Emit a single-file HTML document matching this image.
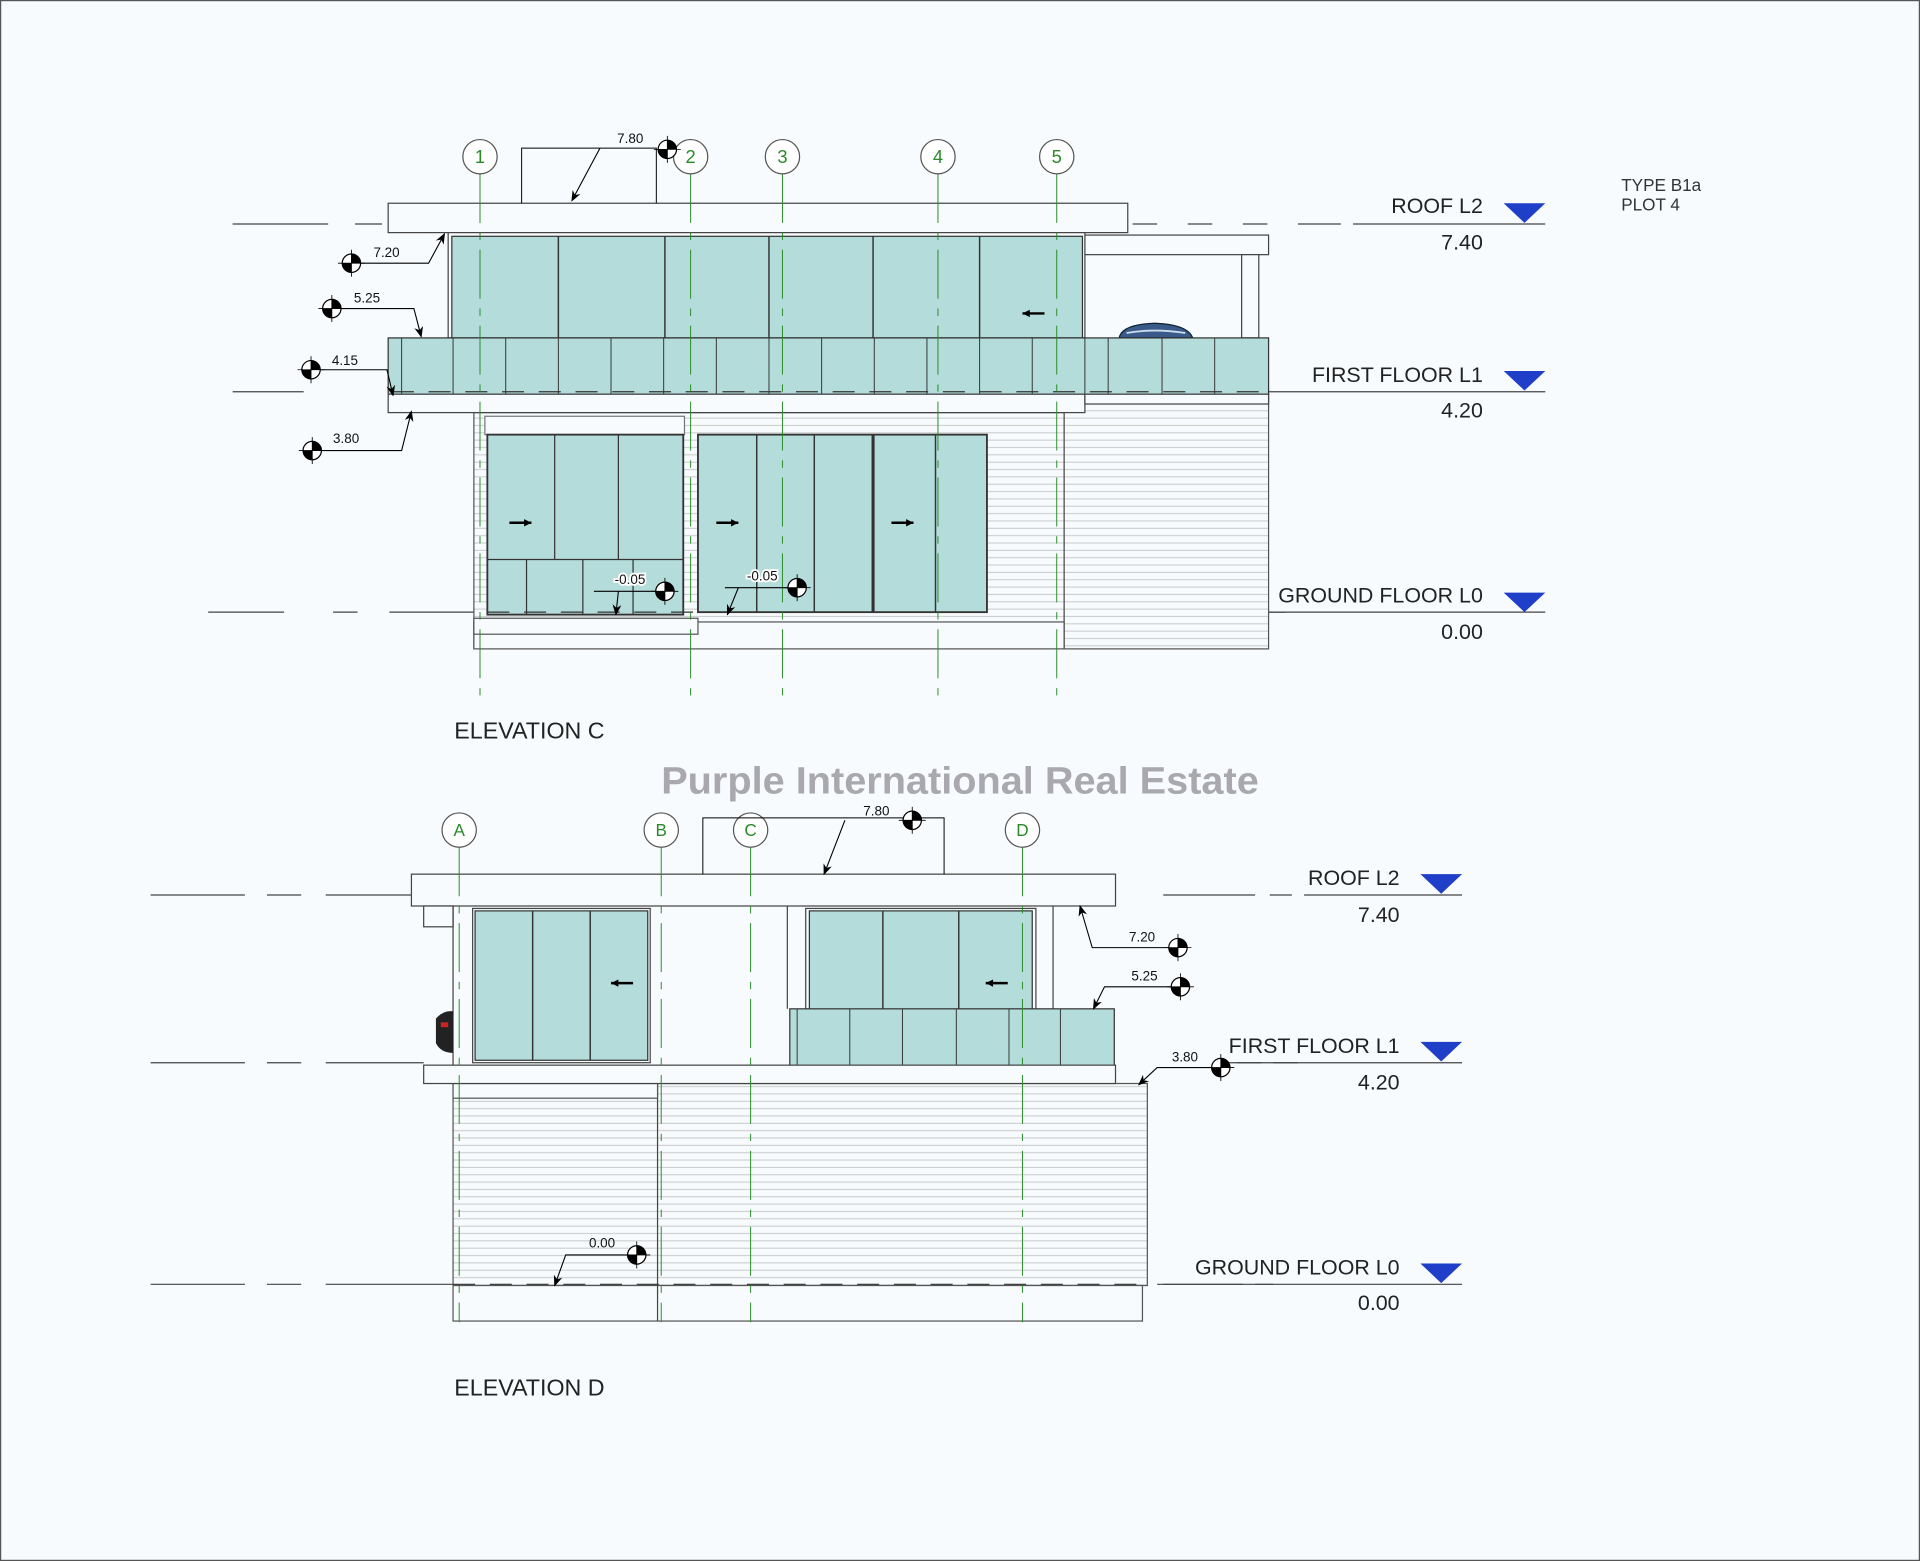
<!DOCTYPE html>
<html><head><meta charset="utf-8"><style>
html,body{margin:0;padding:0;background:#f7fbfd;}
svg{display:block;}
text{font-family:"Liberation Sans",sans-serif;}
</style></head><body>
<svg width="1920" height="1561" viewBox="0 0 1568 1275" preserveAspectRatio="none" xmlns="http://www.w3.org/2000/svg">
<defs>
<marker id="mk" viewBox="0 0 10 10" refX="9" refY="5" markerWidth="9" markerHeight="9" orient="auto" markerUnits="userSpaceOnUse"><path d="M0,1 L10,5 L0,9 L3,5Z" fill="#000"/></marker>
<pattern id="sid" width="8" height="6" patternUnits="userSpaceOnUse"><rect width="8" height="6" fill="#f7fbfd"/><line x1="0" y1="5.5" x2="8" y2="5.5" stroke="#c8c8c8" stroke-width="0.8"/></pattern>
<g id="dm"><circle r="7.5" fill="#fff" stroke="#000" stroke-width="1"/><path d="M0,-7.5 A7.5,7.5 0 0 1 7.5,0 L0,0Z" fill="#000"/><path d="M0,7.5 A7.5,7.5 0 0 1 -7.5,0 L0,0Z" fill="#000"/><line x1="-11" y1="0" x2="11" y2="0" stroke="#000" stroke-width="0.7"/><line x1="0" y1="-11" x2="0" y2="11" stroke="#000" stroke-width="0.7"/></g>
<path id="tri" d="M0,0 L34,0 L17,16Z" fill="#1f3fc8"/>
<g id="ar"><line x1="-9" y1="0" x2="9" y2="0" stroke="#000" stroke-width="2"/><path d="M9,0 L3,-3 L3,3Z" fill="#000"/></g>
<g id="al"><line x1="-9" y1="0" x2="9" y2="0" stroke="#000" stroke-width="2"/><path d="M-9,0 L-3,-3 L-3,3Z" fill="#000"/></g>
</defs>
<rect x="0.5" y="0.5" width="1567" height="1274" fill="#f7fbfd" stroke="#555" stroke-width="1"/>

<!-- ========== ELEVATION C ========== -->
<g stroke="#444" stroke-width="1" fill="none">
<path d="M190,183H268M290,183H312M925,183H945M970,183H990M1015,183H1035M1060,183H1095"/>
<line x1="1105" y1="183" x2="1262" y2="183"/>
<path d="M190,320H248"/><line x1="1036" y1="320" x2="1262" y2="320"/>
<path d="M170,500H232M272,500H292M318,500H398M806,500H836M1036,500H1050"/><line x1="1036" y1="500" x2="1262" y2="500"/>
</g>
<rect x="869" y="322" width="167" height="208" fill="url(#sid)" stroke="#555"/>
<rect x="387" y="337" width="482" height="193" fill="url(#sid)" stroke="#555"/>
<rect x="387" y="508" width="482" height="22" fill="#f7fbfd" stroke="#555"/>
<rect x="387" y="505" width="183" height="13" fill="#f7fbfd" stroke="#555"/>
<rect x="396" y="340" width="163" height="15" fill="#f7fbfd" stroke="#777"/>
<rect x="317" y="166" width="604" height="24" fill="#f7fbfd" stroke="#444"/>
<rect x="886" y="192" width="150" height="16" fill="#f7fbfd" stroke="#444"/>
<rect x="1014" y="208" width="14" height="68" fill="#f7fbfd" stroke="#444"/>
<rect x="366" y="190" width="520" height="86" fill="#f7fbfd" stroke="#444"/>
<rect x="369" y="193" width="515" height="83" fill="#b4dcda" stroke="#333"/>
<g stroke="#333" stroke-width="1.2"><line x1="456" y1="193" x2="456" y2="276"/><line x1="543" y1="193" x2="543" y2="276"/><line x1="628" y1="193" x2="628" y2="276"/><line x1="713" y1="193" x2="713" y2="276"/><line x1="800" y1="193" x2="800" y2="276"/></g>
<use href="#al" x="844" y="256"/>
<path d="M914,276 Q916,265 943,264 Q970,265 974,276Z" fill="#3a5a8a" stroke="#123" stroke-width="1"/>
<path d="M920,272 Q942,268 968,272" stroke="#cde" stroke-width="1.5" fill="none"/>
<rect x="317" y="276" width="719" height="46" fill="#b4dcda" stroke="#333"/>
<g stroke="#333" stroke-width="0.8">
<line x1="328" y1="276" x2="328" y2="322"/><line x1="370" y1="276" x2="370" y2="322"/><line x1="413" y1="276" x2="413" y2="322"/><line x1="456" y1="276" x2="456" y2="322"/><line x1="499" y1="276" x2="499" y2="322"/><line x1="542" y1="276" x2="542" y2="322"/><line x1="585" y1="276" x2="585" y2="322"/><line x1="628" y1="276" x2="628" y2="322"/><line x1="671" y1="276" x2="671" y2="322"/><line x1="714" y1="276" x2="714" y2="322"/><line x1="757" y1="276" x2="757" y2="322"/><line x1="800" y1="276" x2="800" y2="322"/><line x1="843" y1="276" x2="843" y2="322"/><line x1="886" y1="276" x2="886" y2="322"/><line x1="905" y1="276" x2="905" y2="322"/><line x1="949" y1="276" x2="949" y2="322"/><line x1="992" y1="276" x2="992" y2="322"/>
</g>
<line x1="320" y1="320" x2="1036" y2="320" stroke="#333" stroke-dasharray="18,12"/>
<rect x="317" y="322" width="569" height="15" fill="#f7fbfd" stroke="#444"/>
<rect x="886" y="322" width="150" height="8" fill="#f7fbfd" stroke="#444"/>
<rect x="398" y="355" width="160" height="147" fill="#b4dcda" stroke="#333" stroke-width="1.5"/>
<g stroke="#333"><line x1="453" y1="355" x2="453" y2="457"/><line x1="505" y1="355" x2="505" y2="457"/><line x1="398" y1="457" x2="558" y2="457"/><line x1="430" y1="457" x2="430" y2="502"/><line x1="476" y1="457" x2="476" y2="502"/><line x1="517" y1="457" x2="517" y2="502"/></g>
<rect x="570" y="355" width="236" height="145" fill="#b4dcda" stroke="#333" stroke-width="1.5"/>
<g stroke="#333" stroke-width="1.2"><line x1="618" y1="355" x2="618" y2="500"/><line x1="665" y1="355" x2="665" y2="500"/><line x1="713" y1="355" x2="713" y2="500" stroke-width="2.5"/><line x1="764" y1="355" x2="764" y2="500"/></g>
<use href="#ar" x="425" y="427"/><use href="#ar" x="594" y="427"/><use href="#ar" x="737" y="427"/>
<line x1="398" y1="500" x2="806" y2="500" stroke="#333" stroke-dasharray="18,12"/>
<g stroke="#2a8a2a" stroke-width="0.8" stroke-dasharray="40,8,6,8">
<line x1="392" y1="142" x2="392" y2="572"/><line x1="564" y1="142" x2="564" y2="572"/><line x1="639" y1="142" x2="639" y2="572"/><line x1="766" y1="142" x2="766" y2="572"/><line x1="863" y1="142" x2="863" y2="572"/>
</g>
<g fill="#fff" stroke="#555"><circle cx="392" cy="128" r="14"/><circle cx="564" cy="128" r="14"/><circle cx="639" cy="128" r="14"/><circle cx="766" cy="128" r="14"/><circle cx="863" cy="128" r="14"/></g>
<g font-size="15" fill="#2a8a2a" text-anchor="middle"><text x="392" y="133">1</text><text x="564" y="133">2</text><text x="639" y="133">3</text><text x="766" y="133">4</text><text x="863" y="133">5</text></g>
<g stroke="#000" stroke-width="0.8" fill="none">
<path d="M426,166V121H536V166"/>
</g>
<g stroke="#000" stroke-width="0.9" fill="none" marker-end="url(#mk)">
<path d="M490,121L467,164"/>
<path d="M287,215H350L363,191"/><path d="M271,252H338L344,275"/><path d="M254,302H316L321,323"/><path d="M255,368H328L336,336"/>
<path d="M485,483H545M505,483L503,502"/><path d="M592,480H652M603,480L594,502"/>
</g>
<use href="#dm" x="545" y="122"/><use href="#dm" x="287" y="215"/><use href="#dm" x="271" y="252"/><use href="#dm" x="254" y="302"/><use href="#dm" x="255" y="368"/><use href="#dm" x="543" y="483"/><use href="#dm" x="651" y="480"/>
<g font-size="11" fill="#111"><text x="504" y="117">7.80</text><text x="305" y="210">7.20</text><text x="289" y="247">5.25</text><text x="271" y="298">4.15</text><text x="272" y="362">3.80</text><text x="502" y="477" style="paint-order:stroke" stroke="#fff" stroke-width="3">-0.05</text><text x="610" y="474" style="paint-order:stroke" stroke="#fff" stroke-width="3">-0.05</text></g>
<use href="#tri" x="1228" y="166"/><use href="#tri" x="1228" y="303"/><use href="#tri" x="1228" y="484"/>
<g font-size="17.5" fill="#222" text-anchor="end"><text x="1211" y="174">ROOF L2</text><text x="1211" y="204">7.40</text><text x="1211" y="312">FIRST FLOOR L1</text><text x="1211" y="341">4.20</text><text x="1211" y="492">GROUND FLOOR L0</text><text x="1211" y="522">0.00</text></g>
<g font-size="14" fill="#333"><text x="1324" y="156">TYPE B1a</text><text x="1324" y="172">PLOT 4</text></g>
<text x="371" y="603" font-size="19" fill="#222">ELEVATION C</text>

<text x="784" y="648" font-size="31" font-weight="bold" fill="#a8a8ae" text-anchor="middle" font-family="DejaVu Sans, sans-serif" textLength="488" lengthAdjust="spacingAndGlyphs">Purple International Real Estate</text>

<!-- ========== ELEVATION D ========== -->
<g stroke="#444" stroke-width="1" fill="none">
<path d="M123,731H200M218,731H246M266,731H336"/><path d="M950,731H1025M1037,731H1055"/><line x1="1065" y1="731" x2="1194" y2="731"/>
<path d="M123,868H200M218,868H246M266,868H346"/><path d="M1010,868H1030M1040,868H1060"/><line x1="1000" y1="868" x2="1194" y2="868"/>
<path d="M123,1049H200M218,1049H246M266,1049H370"/><path d="M945,1049H1015M1025,1049H1040"/><line x1="950" y1="1049" x2="1194" y2="1049"/>
</g>
<rect x="370" y="885" width="567" height="165" fill="url(#sid)" stroke="#555"/>
<rect x="370" y="1050" width="563" height="29" fill="#f7fbfd" stroke="#555"/>
<line x1="537" y1="885" x2="537" y2="1079" stroke="#444"/>
<rect x="370" y="885" width="167" height="12" fill="#f7fbfd" stroke="#555"/>
<line x1="370" y1="1049" x2="937" y2="1049" stroke="#333" stroke-dasharray="18,12"/>
<rect x="336" y="714" width="575" height="26" fill="#f7fbfd" stroke="#444"/>
<rect x="346" y="740" width="24" height="17" fill="#f7fbfd" stroke="#444"/>
<line x1="370" y1="740" x2="370" y2="870" stroke="#444"/>
<line x1="643" y1="740" x2="643" y2="824" stroke="#444"/><line x1="860" y1="740" x2="860" y2="824" stroke="#444"/>
<rect x="386" y="742" width="145" height="126" fill="#f7fbfd" stroke="#444"/>
<rect x="388" y="744" width="141" height="122" fill="#b4dcda" stroke="#333"/>
<g stroke="#333" stroke-width="1.2"><line x1="435" y1="744" x2="435" y2="866"/><line x1="482" y1="744" x2="482" y2="866"/></g>
<rect x="658" y="742" width="188" height="84" fill="#f7fbfd" stroke="#444"/>
<rect x="661" y="744" width="182" height="82" fill="#b4dcda" stroke="#333"/>
<g stroke="#333" stroke-width="1.2"><line x1="721" y1="744" x2="721" y2="824"/><line x1="783" y1="744" x2="783" y2="824"/></g>
<use href="#al" x="508" y="803"/><use href="#al" x="814" y="803"/>
<rect x="645" y="824" width="265" height="47" fill="#b4dcda" stroke="#333"/>
<g stroke="#333" stroke-width="0.8"><line x1="651" y1="824" x2="651" y2="871"/><line x1="694" y1="824" x2="694" y2="871"/><line x1="737" y1="824" x2="737" y2="871"/><line x1="781" y1="824" x2="781" y2="871"/><line x1="824" y1="824" x2="824" y2="871"/><line x1="866" y1="824" x2="866" y2="871"/></g>
<rect x="346" y="870" width="565" height="15" fill="#f7fbfd" stroke="#444"/>
<path d="M356,832 Q362,825 370,826 L370,860 Q360,860 356,852Z" fill="#222"/><rect x="360" y="835" width="6" height="4" fill="#c22"/>
<g stroke="#2a8a2a" stroke-width="0.8" stroke-dasharray="40,8,6,8">
<line x1="375" y1="692" x2="375" y2="1080"/><line x1="540" y1="692" x2="540" y2="1080"/><line x1="613" y1="692" x2="613" y2="1080"/><line x1="835" y1="692" x2="835" y2="1080"/>
</g>
<g fill="#fff" stroke="#555"><circle cx="375" cy="678" r="14"/><circle cx="540" cy="678" r="14"/><circle cx="613" cy="678" r="14"/><circle cx="835" cy="678" r="14"/></g>
<g font-size="14" fill="#2a8a2a" text-anchor="middle"><text x="375" y="683">A</text><text x="540" y="683">B</text><text x="613" y="683">C</text><text x="835" y="683">D</text></g>
<g stroke="#000" stroke-width="0.8" fill="none"><path d="M574,714V668H771V714"/></g>
<g stroke="#000" stroke-width="0.9" fill="none" marker-end="url(#mk)">
<path d="M690,670L673,714"/>
<path d="M962,774H892L882,740"/><path d="M964,806H902L893,824"/><path d="M997,872H945L930,886"/><path d="M520,1025H462L453,1050"/>
</g>
<use href="#dm" x="745" y="670"/><use href="#dm" x="962" y="774"/><use href="#dm" x="964" y="806"/><use href="#dm" x="997" y="872"/><use href="#dm" x="520" y="1025"/>
<g font-size="11" fill="#111"><text x="705" y="666">7.80</text><text x="922" y="769">7.20</text><text x="924" y="801">5.25</text><text x="957" y="867">3.80</text><text x="481" y="1019">0.00</text></g>
<use href="#tri" x="1160" y="714"/><use href="#tri" x="1160" y="851"/><use href="#tri" x="1160" y="1032"/>
<g font-size="17.5" fill="#222" text-anchor="end"><text x="1143" y="723">ROOF L2</text><text x="1143" y="753">7.40</text><text x="1143" y="860">FIRST FLOOR L1</text><text x="1143" y="890">4.20</text><text x="1143" y="1041">GROUND FLOOR L0</text><text x="1143" y="1070">0.00</text></g>
<text x="371" y="1140" font-size="19" fill="#222">ELEVATION D</text>
</svg>
</body></html>
